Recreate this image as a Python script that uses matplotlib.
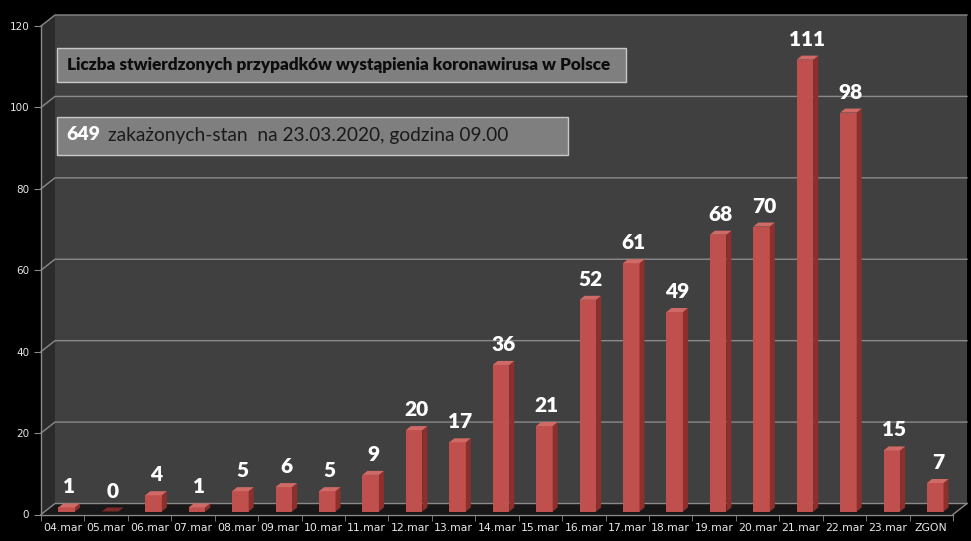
import matplotlib
matplotlib.use("Agg")
import matplotlib.pyplot as plt
from matplotlib.patches import Rectangle, Polygon
import numpy as np

# data
days = ["04.mar", "05.mar", "06.mar", "07.mar", "08.mar", "09.mar", "10.mar",
        "11.mar", "12.mar", "13.mar", "14.mar", "15.mar", "16.mar", "17.mar",
        "18.mar", "19.mar", "20.mar", "21.mar", "22.mar", "23.mar", "ZGON"]
cases = [1, 0, 4, 1, 5, 6, 5, 9, 20, 17, 36, 21, 52, 61, 49, 68, 70, 111, 98, 15, 7]
yticks = [0, 20, 40, 60, 80, 100, 120]
title = "Liczba stwierdzonych przypadków wystąpienia koronawirusa w Polsce"
total_txt = "649"
status_txt = "zakażonych-stan  na 23.03.2020, godzina 09.00"

W, H = 971, 541
fig = plt.figure(figsize=(W / 100, H / 100), dpi=100, facecolor="black")

# front plane of the 3d box, in pixels
left, right, bottom, top = 41, 953, 514.5, 26
ax = fig.add_axes([left / W, (H - bottom) / H, (right - left) / W, (bottom - top) / H])
ax.set_facecolor("none")
n = len(days)
ax.set_xlim(-0.5, n - 0.5)
ax.set_ylim(0, 120)

ppx = (right - left) / n
ppy = (bottom - top) / 120.0


def off(px, py):
    return px / ppx, py / ppy


bx, by = off(14, 11)   # back wall offset
fx, fy = off(4, 3)     # bar front plane
dx, dy = off(5, 4)     # bar depth
x0, x1 = -0.5, n - 0.5

# walls
ax.add_patch(Rectangle((x0 + bx, by), n, 120, facecolor="#404040", edgecolor="none",
                       zorder=0, clip_on=False))
ax.add_patch(Polygon([(x0, 0), (x0, 120), (x0 + bx, 120 + by), (x0 + bx, by)],
                     facecolor="#2b2b2b", edgecolor="none", zorder=0.5, clip_on=False))
ax.add_patch(Polygon([(x0, 0), (x1, 0), (x1 + bx, by), (x0 + bx, by)],
                     facecolor="#181818", edgecolor="none", zorder=0.5, clip_on=False))

# gridlines on the back wall and left wall
for t in yticks:
    ax.plot([x0, x0 + bx, x1 + bx], [t, t + by, t + by], color="#8a8a8a", lw=1,
            zorder=1, clip_on=False)
ax.plot([x1, x1 + bx], [0, by], color="#8a8a8a", lw=1, zorder=1, clip_on=False)

# bars
xs = np.arange(n)
w = 0.38
ax.bar(xs + fx, cases, w, bottom=fy, color="#c0504d", zorder=3, clip_on=False)
for i, v in enumerate(cases):
    xl = i + fx - w / 2
    xr = i + fx + w / 2
    ax.add_patch(Polygon([(xr, fy), (xr, fy + v), (xr + dx, fy + v + dy), (xr + dx, fy + dy)],
                         facecolor="#8c2f2d", edgecolor="none", zorder=3, clip_on=False))
    top_col = "#d06a67" if v > 0 else "#7a2a28"
    ax.add_patch(Polygon([(xl, fy + v), (xr, fy + v), (xr + dx, fy + v + dy), (xl + dx, fy + v + dy)],
                         facecolor=top_col, edgecolor="none", zorder=3, clip_on=False))
    ax.text(i + fx + dx / 2, fy + v + dy + off(0, 7)[1], str(v), ha="center", va="bottom",
            color="white", fontsize=15, fontweight="heavy", family="Lato", zorder=4)

# axes styling
for s in ["top", "right"]:
    ax.spines[s].set_visible(False)
for s in ["left", "bottom"]:
    ax.spines[s].set_color("#8a8a8a")
    ax.spines[s].set_linewidth(1)
ax.set_yticks(yticks)
ax.set_yticklabels([str(t) for t in yticks])
ax.tick_params(axis="y", colors="#8a8a8a", labelcolor="#e6e6e6", length=5, pad=3.5,
               labelsize=7.5)
ax.set_xticks(xs)
ax.set_xticklabels(days)
ax.set_xticks(np.arange(n + 1) - 0.5, minor=True)
ax.tick_params(axis="x", which="major", length=0, pad=6, labelcolor="#e6e6e6", labelsize=7.8)
ax.tick_params(axis="x", which="minor", length=4, color="#8a8a8a")


def fig_box(px0, py0, px1, py1):
    r = Rectangle((px0 / W, 1 - py1 / H), (px1 - px0) / W, (py1 - py0) / H,
                  transform=fig.transFigure, facecolor="#7f7f7f", edgecolor="#c8c8c8",
                  lw=1, zorder=5)
    fig.add_artist(r)


fig_box(57, 48, 626, 82)
fig.text(67 / W, 1 - 65 / H, title, ha="left", va="center", fontsize=12.3,
         fontweight="heavy", family="Lato", color="#0d0d0d", zorder=6)

fig_box(57, 117, 568, 155)
fig.text(66 / W, 1 - 135 / H, total_txt, ha="left", va="center", fontsize=14,
         fontweight="heavy", family="Lato", color="white", zorder=6)
fig.text(108 / W, 1 - 135 / H, status_txt, ha="left", va="center", fontsize=13.8,
         family="Lato", color="#1a1a1a", zorder=6)

fig.savefig("out.png", dpi=100, facecolor="black")
